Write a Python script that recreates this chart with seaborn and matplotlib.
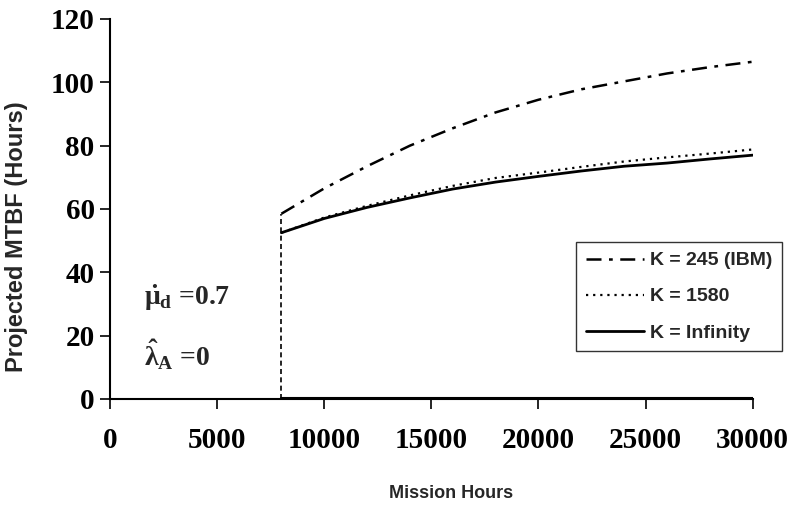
import numpy as np
import pandas as pd
import matplotlib
matplotlib.use("Agg")
import matplotlib.pyplot as plt
import seaborn as sns

# ---- data ----
mission_hours = [8000, 10000, 12000, 14000, 16000, 18000, 20000, 22000, 24000, 26000, 28000, 30000]
mtbf_k245 = [58.5, 66.5, 73.5, 80.0, 85.5, 90.5, 94.5, 97.8, 100.3, 102.8, 104.8, 106.5]
mtbf_k1580 = [52.5, 57.3, 61.0, 64.3, 67.3, 69.8, 71.5, 73.3, 75.0, 76.3, 77.5, 78.8]
mtbf_kinf = [52.5, 57.0, 60.5, 63.5, 66.3, 68.5, 70.3, 72.0, 73.5, 74.5, 75.8, 77.0]
series_labels = ["K = 245 (IBM)", "K = 1580", "K = Infinity"]
start_jump_x = [8000, 8000]
start_jump_y = [0, 58.5]
baseline_x = [8000, 30000]
baseline_y = [0.4, 0.4]
x_ticks = [0, 5000, 10000, 15000, 20000, 25000, 30000]
y_ticks = [0, 20, 40, 60, 80, 100, 120]

sns.set_style("white")
plt.rcParams["font.family"] = ["Liberation Sans", "DejaVu Sans"]
plt.rcParams["mathtext.fontset"] = "custom"
plt.rcParams["mathtext.rm"] = "Liberation Serif:bold"
plt.rcParams["mathtext.it"] = "Liberation Serif:bold"
plt.rcParams["mathtext.bf"] = "Liberation Serif:bold"

fig = plt.figure(figsize=(7.94, 5.08), dpi=100)
ax = fig.add_axes([0.1385, 0.2146, 0.8095, 0.748])

styles = [(0, (6, 3, 1.5, 3)), (0, (1, 2.2)), "-"]
widths = [1.8, 1.6, 2.0]
for vals, lab, ls, lw in zip([mtbf_k245, mtbf_k1580, mtbf_kinf], series_labels, styles, widths):
    sns.lineplot(x=mission_hours, y=vals, ax=ax, color="black", linestyle=ls,
                 linewidth=lw, label=lab)

sns.lineplot(x=start_jump_x, y=start_jump_y, ax=ax, color="black",
             linestyle=(0, (3, 2)), linewidth=1.2, legend=False,
             estimator=None, sort=False, errorbar=None)
sns.lineplot(x=baseline_x, y=baseline_y, ax=ax, color="black",
             linestyle="-", linewidth=1.5, legend=False,
             estimator=None, sort=False, errorbar=None)

ax.set_xlim(0, 30000)
ax.set_ylim(0, 120)
ax.set_xticks(x_ticks)
ax.set_yticks(y_ticks)
ax.set_xticklabels([str(t) for t in x_ticks])
ax.set_yticklabels([str(t) for t in y_ticks])
for lbl in ax.get_xticklabels() + ax.get_yticklabels():
    lbl.set_fontfamily("Liberation Serif")
    lbl.set_fontweight("bold")
    lbl.set_fontsize(21)
ax.tick_params(axis="both", direction="out", length=7, width=1.2, colors="black",
               bottom=True, left=True)
ax.tick_params(axis="x", pad=13)
ax.tick_params(axis="y", pad=4)

for s in ["top", "right"]:
    ax.spines[s].set_visible(False)
for s in ["left", "bottom"]:
    ax.spines[s].set_color("black")
    ax.spines[s].set_linewidth(1.5)

ax.set_xlabel("Mission Hours", fontsize=13, fontweight="bold")
ax.set_ylabel("Projected MTBF (Hours)", fontsize=17, fontweight="bold")
ax.xaxis.set_label_coords(0.530, -0.226)
ax.yaxis.set_label_coords(-0.127, 0.426)

ax.text(1600, 32, r"$\dot{\mu}_{\mathrm{d}}$ =0.7", fontsize=20, ha="left", va="center",
        fontfamily="Liberation Serif", fontweight="bold")
ax.text(1600, 14, r"$\hat{\lambda}_{\mathrm{A}}$ =0", fontsize=20, ha="left", va="center",
        fontfamily="Liberation Serif", fontweight="bold")

leg = ax.legend(loc="upper left", bbox_to_anchor=(0.7254, 0.5236),
                bbox_transform=fig.transFigure, frameon=True, fancybox=False,
                edgecolor="black", prop={"weight": "bold", "size": 14},
                handlelength=3.0, handletextpad=0.3, borderpad=0.5,
                labelspacing=0.95, borderaxespad=0)
leg.get_frame().set_linewidth(1.0)

fig.savefig("out.png", dpi=100)
